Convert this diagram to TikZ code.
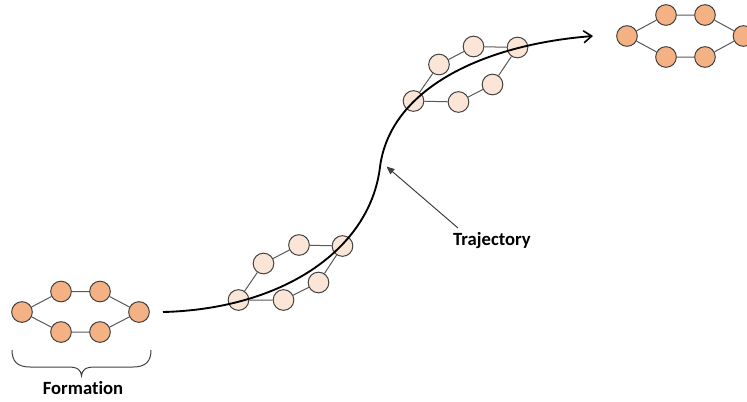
\documentclass[tikz,border=0pt]{standalone}
\usepackage{fontspec}
\setmainfont{Carlito}[Ligatures={NoCommon,NoRequired,NoContextual}]
\usetikzlibrary{arrows.meta}
\definecolor{dark}{HTML}{F4B183}
\definecolor{light}{HTML}{FBE5D6}
\definecolor{rim}{HTML}{404040}
\definecolor{link}{HTML}{595959}
\tikzset{
  agent/.style={circle, draw=rim, line width=0.75pt, minimum size=15.5pt, inner sep=0pt},
  agentA/.style={agent, fill=dark},
  agentB/.style={agent, fill=light},
  linkline/.style={draw=link, line width=0.75pt},
  label/.style={font=\fontsize{14}{16}\selectfont\bfseries, text=black},
}
\begin{document}
\begin{tikzpicture}[x=0.75pt,y=-0.75pt]
\useasboundingbox (0,0) rectangle (747,401);
\clip (0,0) rectangle (747,401);
% Formation 1 (bottom left)
\node[agentA] (f1l)  at (22,312) {};
\node[agentA] (f1t1) at (61,291.5) {};
\node[agentA] (f1t2) at (100,291.5) {};
\node[agentA] (f1r)  at (139,312) {};
\node[agentA] (f1b1) at (61,332) {};
\node[agentA] (f1b2) at (100,332) {};
\path[linkline] (f1l)--(f1t1) (f1t1)--(f1t2) (f1t2)--(f1r) (f1r)--(f1b2) (f1b2)--(f1b1) (f1b1)--(f1l);
% Formation 2
\node[agentB] (f2a) at (238.5,300) {};
\node[agentB] (f2b) at (263.5,263.5) {};
\node[agentB] (f2c) at (299,245) {};
\node[agentB] (f2d) at (342.5,246) {};
\node[agentB] (f2e) at (318.5,282.5) {};
\node[agentB] (f2f) at (283.5,300) {};
\path[linkline] (f2a)--(f2b) (f2b)--(f2c) (f2c)--(f2d) (f2d)--(f2e) (f2e)--(f2f) (f2f)--(f2a);
% Formation 3
\node[agentB] (f3a) at (413.5,101) {};
\node[agentB] (f3b) at (439,64.5) {};
\node[agentB] (f3c) at (473.5,46.5) {};
\node[agentB] (f3d) at (517.5,47.5) {};
\node[agentB] (f3e) at (492.5,84.5) {};
\node[agentB] (f3f) at (458.5,102) {};
\path[linkline] (f3a)--(f3b) (f3b)--(f3c) (f3c)--(f3d) (f3d)--(f3e) (f3e)--(f3f) (f3f)--(f3a);
% Formation 4 (top right)
\node[agentA] (f4l)  at (627,36) {};
\node[agentA] (f4t1) at (666,15) {};
\node[agentA] (f4t2) at (705,15) {};
\node[agentA] (f4r)  at (743.5,36) {};
\node[agentA] (f4b1) at (666,57) {};
\node[agentA] (f4b2) at (705,57) {};
\path[linkline] (f4l)--(f4t1) (f4t1)--(f4t2) (f4t2)--(f4r) (f4r)--(f4b2) (f4b2)--(f4b1) (f4b1)--(f4l);
% Trajectory
\coordinate (ts) at (163,312);
\coordinate (tm) at (380,167);
\coordinate (te) at (593,36);
\draw[line width=1.4pt, black, -{Straight Barb[length=6pt,width=9pt,line width=1.2pt]}]
  (ts) .. controls (282,309) and (370,250) .. (tm)
       .. controls (390,90) and (480,45) .. (te);
% Labels
\node[label] (trajlbl) at (492,241) {Trajectory};
\coordinate (tptr) at (386.5,166.5);
\draw[line width=0.75pt, rim, -{Triangle[length=6pt,width=5pt]}] (458,228) -- (tptr);
\draw[line width=0.75pt, rim]
  (12,350) .. controls (12,361) and (17,367) .. (30,367) -- (68,367)
  .. controls (78,367) and (81,370) .. (81.5,376)
  .. controls (82,370) and (85,367) .. (95,367) -- (133,367)
  .. controls (146,367) and (151,361) .. (151,350);
\node[label] (formlbl) at (83,388) {Formation};
\end{tikzpicture}
\end{document}
